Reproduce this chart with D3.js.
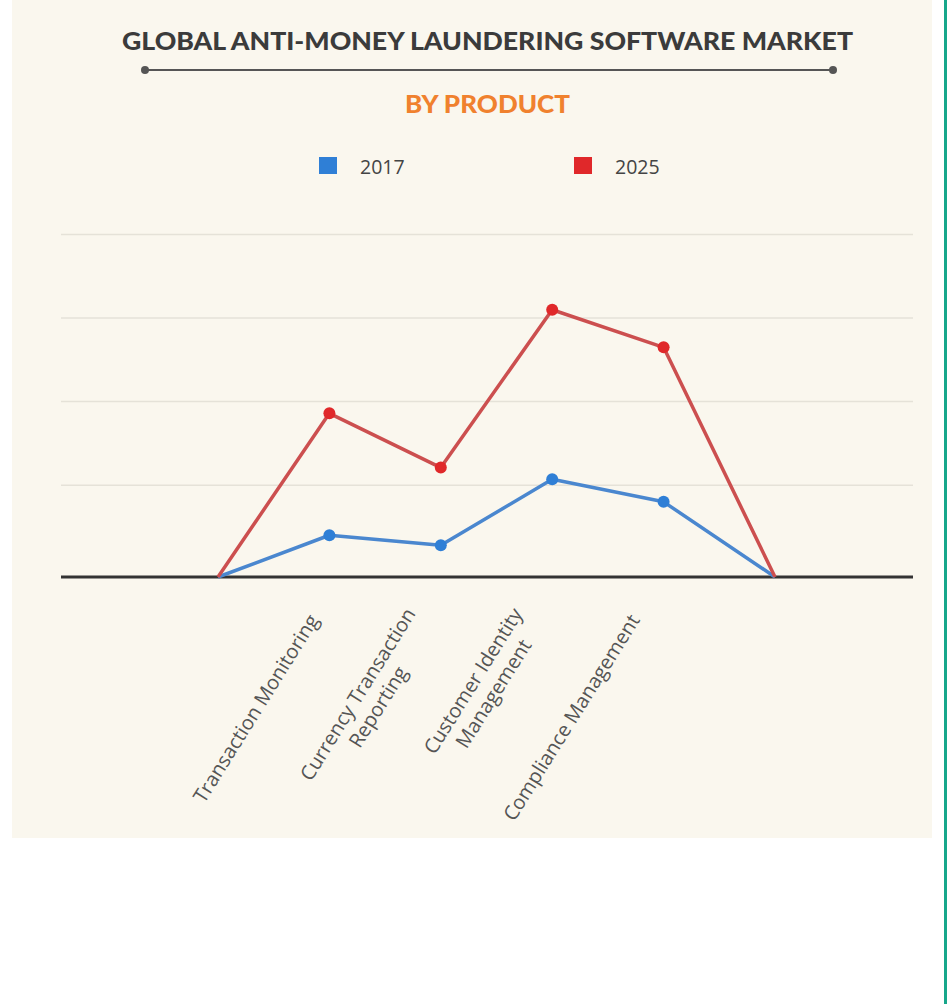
<!DOCTYPE html>
<html>
<head>
<meta charset="utf-8">
<script src="https://cdn.jsdelivr.net/npm/d3@7"></script>
<style>
	body { margin: 0; background: #ffffff; }
	svg { display: block; }
</style>
</head>
<body>
<div id="chart"></div>
<script>

	var slots = ["start", "Transaction Monitoring", "Currency Transaction Reporting", "Customer Identity Management", "Compliance Management", "end"];

	var categories = ["Transaction Monitoring", "Currency Transaction Reporting", "Customer Identity Management", "Compliance Management"];

	var labelLines = [["Transaction Monitoring"], ["Currency Transaction", "Reporting"], ["Customer Identity", "Management"], ["Compliance Management"]];

	var values2017 = [0, 0.50, 0.38, 1.17, 0.90, 0];

	var values2025 = [0, 1.96, 1.31, 3.20, 2.75, 0];

	var gridValues = [1.1, 2.1, 3.1, 4.1];

	var years = ["2017", "2025"];


	var width = 947, height = 1004;

	var svg = d3.select('#chart').append('svg')
		.attr('width', width)
		.attr('height', height);

	// cream panel + teal edge
	svg.append("rect")
		.attr("x", 12).attr("y", 0)
		.attr("width", 920).attr("height", 838)
		.attr("fill", "#faf7ee");

	svg.append("rect")
		.attr("x", 944).attr("y", 0)
		.attr("width", 3).attr("height", height)
		.attr("fill", "#17a78b");

	// titles
	svg.append("text")
		.attr("x", 487.5).attr("y", 50)
		.attr("text-anchor", "middle")
		.attr("font-family", "Lato, 'Open Sans', sans-serif")
		.attr("font-weight", 900)
		.attr("font-size", 25)
		.attr("fill", "#3b3b3b")
		.attr("textLength", 731)
		.attr("lengthAdjust", "spacingAndGlyphs")
		.text("GLOBAL ANTI-MONEY LAUNDERING SOFTWARE MARKET");

	svg.append("line")
		.attr("x1", 145).attr("x2", 833)
		.attr("y1", 70).attr("y2", 70)
		.attr("stroke", "#555")
		.attr("stroke-width", 2);

	svg.selectAll("circle.rule")
		.data([145, 833])
		.enter()
		.append("circle")
		.attr("class", "rule")
		.attr("cx", function(d){ return d; })
		.attr("cy", 70)
		.attr("r", 4)
		.attr("fill", "#555");

	svg.append("text")
		.attr("x", 487.5).attr("y", 113)
		.attr("text-anchor", "middle")
		.attr("font-family", "Lato, 'Open Sans', sans-serif")
		.attr("font-weight", 900)
		.attr("font-size", 25)
		.attr("fill", "#f0812e")
		.attr("textLength", 165)
		.attr("lengthAdjust", "spacingAndGlyphs")
		.text("BY PRODUCT");

	// legend
	var colors = { "2017": "#2f7fd6", "2025": "#e0282a" };
	var lineColors = { "2017": "#4a87cf", "2025": "#cc4f4f" };
	var legendX = d3.scalePoint().domain(years).range([319, 574]);

	var legend = svg.selectAll("g.legend")
		.data(years)
		.enter()
		.append("g")
		.attr("class", "legend")
		.attr("transform", function(d){ return "translate(" + legendX(d) + ",157)"; });

	legend.append("rect")
		.attr("width", 18).attr("height", 17)
		.attr("fill", function(d){ return colors[d]; });

	legend.append("text")
		.attr("x", 41).attr("y", 16.5)
		.attr("font-family", "'Open Sans', sans-serif")
		.attr("font-size", 19.5)
		.attr("fill", "#444")
		.text(function(d){ return d; });

	// scales
	var x = d3.scalePoint().domain(slots).range([218, 775]);
	var y = d3.scaleLinear().domain([0, 4.1]).range([577, 234.6]);

	// grid lines
	svg.selectAll("line.grid")
		.data(gridValues)
		.enter()
		.append("line")
		.attr("class", "grid")
		.attr("x1", 61).attr("x2", 913)
		.attr("y1", function(d){ return y(d); })
		.attr("y2", function(d){ return y(d); })
		.attr("stroke", "#e5e2d8")
		.attr("stroke-width", 1.5);

	// baseline
	svg.append("line")
		.attr("x1", 61).attr("x2", 913)
		.attr("y1", y(0)).attr("y2", y(0))
		.attr("stroke", "#333")
		.attr("stroke-width", 3);

	// lines + dots
	var series = [
		{ year: "2017", values: values2017 },
		{ year: "2025", values: values2025 }
	];

	var line = d3.line()
		.x(function(d, i){ return x(slots[i]); })
		.y(function(d){ return y(d); });

	series.forEach(function(s){
		svg.append("path")
			.datum(s.values)
			.attr("d", line)
			.attr("fill", "none")
			.attr("stroke", lineColors[s.year])
			.attr("stroke-width", 3.5)
			.attr("stroke-linejoin", "round");

		svg.selectAll("circle.dot" + s.year)
			.data(s.values.slice(1, -1))
			.enter()
			.append("circle")
			.attr("class", "dot" + s.year)
			.attr("cx", function(d, i){ return x(categories[i]); })
			.attr("cy", function(d){ return y(d); })
			.attr("r", 6)
			.attr("fill", colors[s.year]);
	});

	// rotated category labels (multi-line blocks centred on their anchor)
	var lineH = 24;
	var labelX = d3.scalePoint().domain(categories).range([x(categories[0]) - 10, x(categories[3]) - 23]);

	var labels = svg.selectAll("g.label")
		.data(categories)
		.enter()
		.append("g")
		.attr("class", "label")
		.attr("transform", function(d){ return "translate(" + labelX(d) + ",620) rotate(-58)"; });

	labels.each(function(d, i){
		var g = d3.select(this);
		var n = labelLines[i].length;
		var txt = g.append("text")
			.attr("font-family", "'Open Sans', sans-serif")
			.attr("font-size", 20)
			.attr("fill", "#555")
			.attr("text-anchor", "middle");
		labelLines[i].forEach(function(l, j){
			txt.append("tspan")
				.attr("x", 0)
				.attr("y", (j - (n - 1) / 2) * lineH)
				.text(l);
		});
		var w = d3.max(txt.selectAll("tspan").nodes(), function(n){ return n.getComputedTextLength(); });
		txt.selectAll("tspan").attr("x", -w / 2);
	});

</script>
</body>
</html>
